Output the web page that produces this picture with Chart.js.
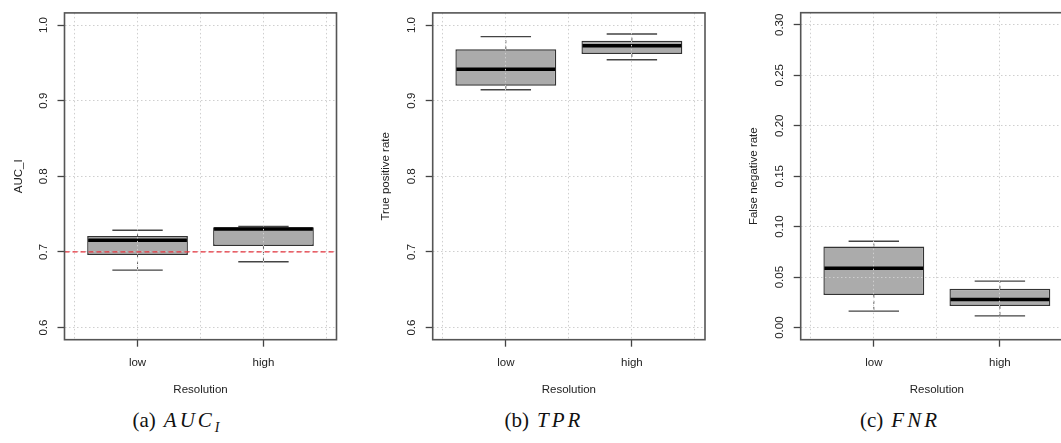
<!DOCTYPE html>
<html>
<head>
<meta charset="utf-8">
<script src="https://cdn.jsdelivr.net/npm/chart.js@4.4.1/dist/chart.umd.min.js"></script>
<style>
  html, body { margin: 0; padding: 0; background: #fff; }
  body { width: 1061px; height: 443px; position: relative; overflow: hidden; }
  .panel { position: absolute; top: 0; height: 400px; }
  .caption { position: absolute; top: 408px; width: 240px; text-align: center;
             font: 21px "Liberation Serif", "DejaVu Serif", serif; color: #111; }
  .caption i { margin-left: 8px; letter-spacing: 3px; }
  .caption sub { font-size: 14px; vertical-align: -5px; line-height: 0; letter-spacing: 0; }
</style>
</head>
<body>
<div class="panel" style="left:0;width:345px"><canvas id="aucChart"></canvas></div>
<div class="panel" style="left:360px;width:355px"><canvas id="tprChart"></canvas></div>
<div class="panel" style="left:710px;width:380px"><canvas id="fnrChart"></canvas></div>

<div class="caption" style="left:56px">(a)<i>AUC<sub>I</sub></i></div>
<div class="caption" style="left:424px">(b)<i>TPR</i></div>
<div class="caption" style="left:780px">(c)<i>FNR</i></div>

<script>
const categories = ['low', 'high'];
const positions = [1, 2];
const gridX = [0.5, 1, 1.5, 2, 2.5];

// (a) AUC_I
const aucMin = [0.676, 0.687];
const aucQ1 = [0.696, 0.708];
const aucMedian = [0.7155, 0.7305];
const aucQ3 = [0.721, 0.7325];
const aucMax = [0.7287, 0.7338];
const aucRef = 0.7;
const aucTicks = [0.6, 0.7, 0.8, 0.9, 1.0];

// (b) TPR
const tprMin = [0.9145, 0.9541];
const tprQ1 = [0.9198, 0.9617];
const tprMedian = [0.9415, 0.9727];
const tprQ3 = [0.9679, 0.9793];
const tprMax = [0.9846, 0.9881];
const tprTicks = [0.6, 0.7, 0.8, 0.9, 1.0];

// (c) FNR
const fnrMin = [0.0163, 0.0116];
const fnrQ1 = [0.0324, 0.0215];
const fnrMedian = [0.0589, 0.0278];
const fnrQ3 = [0.0803, 0.0384];
const fnrMax = [0.0856, 0.0460];
const fnrTicks = [0, 0.05, 0.10, 0.15, 0.20, 0.25, 0.30];

Chart.defaults.font.family = '"Liberation Sans", Arial, sans-serif';
Chart.defaults.font.size = 11.5;
Chart.defaults.color = '#222';

// medians, whiskers, caps, reference line and frame
function boxExtras(p) {
  return {
    id: 'boxExtras',
    afterDatasetsDraw(chart) {
      const c = chart.ctx, x = chart.scales.x, y = chart.scales.y;
      c.save();
      positions.forEach((pos, i) => {
        const xc = x.getPixelForValue(pos);
        const capL = x.getPixelForValue(pos - 0.2), capR = x.getPixelForValue(pos + 0.2);
        const boxL = x.getPixelForValue(pos - 0.4), boxR = x.getPixelForValue(pos + 0.4);
        // whiskers
        c.strokeStyle = '#555';
        c.lineWidth = 1;
        c.setLineDash([3, 3]);
        c.beginPath();
        c.moveTo(xc, y.getPixelForValue(p.q3[i])); c.lineTo(xc, y.getPixelForValue(p.max[i]));
        c.moveTo(xc, y.getPixelForValue(p.q1[i])); c.lineTo(xc, y.getPixelForValue(p.min[i]));
        c.stroke();
        // caps
        c.setLineDash([]);
        c.strokeStyle = '#444';
        c.lineWidth = 1.4;
        c.beginPath();
        c.moveTo(capL, y.getPixelForValue(p.max[i])); c.lineTo(capR, y.getPixelForValue(p.max[i]));
        c.moveTo(capL, y.getPixelForValue(p.min[i])); c.lineTo(capR, y.getPixelForValue(p.min[i]));
        c.stroke();
        // median
        c.strokeStyle = '#000';
        c.lineWidth = 3.5;
        c.beginPath();
        c.moveTo(boxL + 1, y.getPixelForValue(p.median[i]));
        c.lineTo(boxR - 1, y.getPixelForValue(p.median[i]));
        c.stroke();
      });
      c.restore();
    },
    afterDraw(chart) {
      const c = chart.ctx, a = chart.chartArea, y = chart.scales.y;
      c.save();
      if (p.ref !== undefined) {
        c.strokeStyle = '#e5333d';
        c.lineWidth = 1.2;
        c.setLineDash([5, 3]);
        c.beginPath();
        c.moveTo(a.left, y.getPixelForValue(p.ref));
        c.lineTo(a.right, y.getPixelForValue(p.ref));
        c.stroke();
      }
      c.setLineDash([]);
      c.strokeStyle = '#555';
      c.lineWidth = 1.6;
      c.strokeRect(a.left, a.top, a.right - a.left, a.bottom - a.top);
      c.restore();
    }
  };
}

function makeBoxplot(id, p) {
  const ctx = document.getElementById(id).getContext('2d');
  return new Chart(ctx, {
    type: 'bar',
    data: {
      datasets: [{
        data: positions.map((pos, i) => ({ x: pos, y: [p.q1[i], p.q3[i]] })),
        backgroundColor: '#ababab',
        borderColor: '#333',
        borderWidth: 1.4,
        borderSkipped: false,
        categoryPercentage: 1,
        barPercentage: 1.6   // ticks every 0.5 -> box 0.8 wide as in R
      }]
    },
    options: {
      responsive: true,
      maintainAspectRatio: false,
      animation: false,
      layout: { padding: { top: 12.7, right: p.padRight, left: 0, bottom: 0 } },
      plugins: { legend: { display: false }, tooltip: { enabled: false } },
      scales: {
        x: {
          type: 'linear',
          min: 0.42, max: 2.58,
          offset: false,
          afterBuildTicks: s => { s.ticks = gridX.map(v => ({ value: v })); },
          afterFit: s => { s.height = 60.3; },
          ticks: {
            autoSkip: false, padding: 9, maxRotation: 0,
            callback: v => (Number.isInteger(v) ? categories[v - 1] : '')
          },
          grid: {
            offset: false, z: 1, color: '#cfcfcf', lineWidth: 1,
            tickLength: 7, tickWidth: 1.3,
            tickColor: c => (Number.isInteger(c.tick.value) ? '#444' : 'rgba(0,0,0,0)')
          },
          border: { display: false, dash: [1.5, 2.5] },
          title: { display: true, text: 'Resolution', padding: { top: 0, bottom: 3 } }
        },
        y: {
          min: p.yMin, max: p.yMax,
          afterBuildTicks: s => { s.ticks = p.ticks.map(v => ({ value: v })); },
          afterFit: s => { s.width = p.axisWidth; },
          ticks: {
            minRotation: 90, maxRotation: 90, crossAlign: 'center',
            padding: p.labelPad,
            callback: v => v.toFixed(p.decimals)
          },
          grid: {
            z: 1, color: '#cfcfcf', lineWidth: 1,
            tickLength: 7, tickWidth: 1.3, tickColor: '#444'
          },
          border: { display: false, dash: [1.5, 2.5] },
          title: { display: true, text: p.title, padding: { top: p.titleTop, bottom: 0 } }
        }
      }
    },
    plugins: [boxExtras(p)]
  });
}

makeBoxplot('aucChart', {
  min: aucMin, q1: aucQ1, median: aucMedian, q3: aucQ3, max: aucMax, ref: aucRef,
  ticks: aucTicks, yMin: 0.584, yMax: 1.016, decimals: 1,
  title: 'AUC_I', axisWidth: 64.5, padRight: 8.5, labelPad: 6, titleTop: 11.5
});
makeBoxplot('tprChart', {
  min: tprMin, q1: tprQ1, median: tprMedian, q3: tprQ3, max: tprMax,
  ticks: tprTicks, yMin: 0.584, yMax: 1.016, decimals: 1,
  title: 'True positive rate', axisWidth: 72.7, padRight: 10, labelPad: 6, titleTop: 19
});
makeBoxplot('fnrChart', {
  min: fnrMin, q1: fnrQ1, median: fnrMedian, q3: fnrQ3, max: fnrMax,
  ticks: fnrTicks, yMin: -0.012, yMax: 0.312, decimals: 2,
  title: 'False negative rate', axisWidth: 90.7, padRight: 17, labelPad: 3, titleTop: 37
});
</script>
</body>
</html>
